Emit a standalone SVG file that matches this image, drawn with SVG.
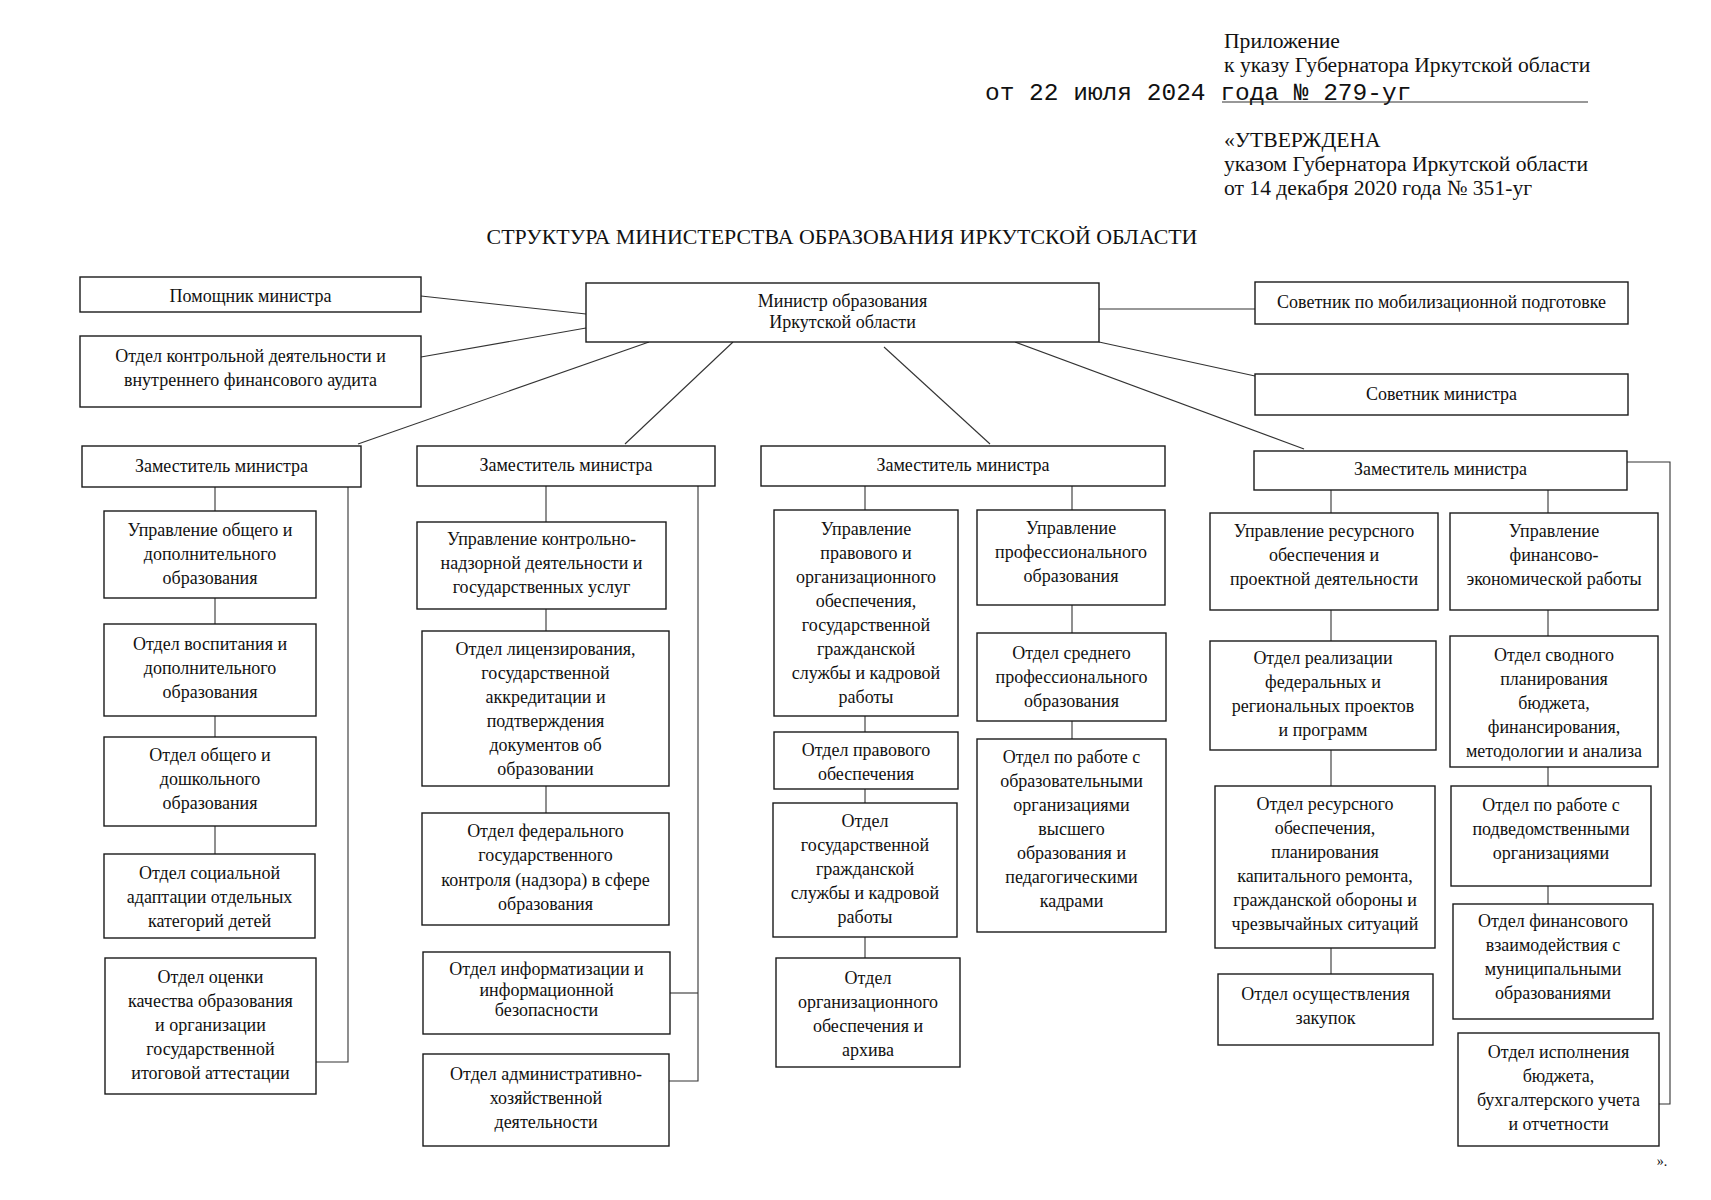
<svg xmlns="http://www.w3.org/2000/svg" width="1711" height="1200" viewBox="0 0 1711 1200">
<style>
.bg{fill:#fff}
.box{fill:#fff;stroke:#1a1a1a;stroke-width:1.4}
.t{font-family:"Liberation Serif","Times New Roman",serif;font-size:18px;text-anchor:middle;fill:#111}
.h{font-family:"Liberation Serif","Times New Roman",serif;font-size:21.6px;fill:#111}
.m{font-family:"Liberation Mono","Courier New",monospace;font-size:24.5px;fill:#111}
.c{stroke:#333;stroke-width:1.1;fill:none}
</style>
<rect class="bg" x="0" y="0" width="1711" height="1200"/>
<g id="header">
<text class="h" x="1224" y="48">Приложение</text>
<text class="h" x="1224" y="72">к указу Губернатора Иркутской области</text>
<text class="m" x="985" y="100">от 22 июля 2024 года № 279-уг</text>
<line x1="1222" y1="102" x2="1588" y2="102" stroke="#333" stroke-width="1.2"/>
<text class="h" x="1224" y="147">«УТВЕРЖДЕНА</text>
<text class="h" x="1224" y="171">указом Губернатора Иркутской области</text>
<text class="h" x="1224" y="195">от 14 декабря 2020 года № 351-уг</text>
<text class="h" x="842" y="244" text-anchor="middle" style="font-size:21.9px">СТРУКТУРА МИНИСТЕРСТВА ОБРАЗОВАНИЯ ИРКУТСКОЙ ОБЛАСТИ</text>
<text class="t" x="1662" y="1166" style="font-size:14px">».</text>
</g>
<g id="connectors">
<line class="c" x1="421" y1="296" x2="586" y2="314"/>
<line class="c" x1="421" y1="357" x2="586" y2="328"/>
<line class="c" x1="1099" y1="309" x2="1255" y2="309"/>
<line class="c" x1="1099" y1="342" x2="1255" y2="376"/>
<line class="c" x1="649" y1="342" x2="358" y2="444"/>
<line class="c" x1="733" y1="342" x2="625" y2="444"/>
<line class="c" x1="884" y1="347" x2="990" y2="444"/>
<line class="c" x1="1015" y1="342" x2="1304" y2="449"/>
<line class="c" x1="215" y1="487" x2="215" y2="511"/>
<line class="c" x1="215" y1="598" x2="215" y2="624"/>
<line class="c" x1="215" y1="716" x2="215" y2="737"/>
<line class="c" x1="215" y1="826" x2="215" y2="854"/>
<polyline class="c" points="348,487 348,1062 316,1062"/>
<line class="c" x1="546" y1="486" x2="546" y2="522"/>
<line class="c" x1="546" y1="609" x2="546" y2="631"/>
<line class="c" x1="546" y1="786" x2="546" y2="813"/>
<polyline class="c" points="698,486 698,1081 669,1081"/>
<line class="c" x1="670" y1="993" x2="698" y2="993"/>
<line class="c" x1="865" y1="486" x2="865" y2="510"/>
<line class="c" x1="865" y1="716" x2="865" y2="732"/>
<line class="c" x1="865" y1="789" x2="865" y2="803"/>
<line class="c" x1="865" y1="937" x2="865" y2="958"/>
<line class="c" x1="1072" y1="486" x2="1072" y2="510"/>
<line class="c" x1="1072" y1="605" x2="1072" y2="633"/>
<line class="c" x1="1072" y1="721" x2="1072" y2="739"/>
<line class="c" x1="1331" y1="490" x2="1331" y2="513"/>
<line class="c" x1="1331" y1="610" x2="1331" y2="641"/>
<line class="c" x1="1331" y1="750" x2="1331" y2="786"/>
<line class="c" x1="1331" y1="948" x2="1331" y2="974"/>
<line class="c" x1="1548" y1="490" x2="1548" y2="513"/>
<line class="c" x1="1548" y1="610" x2="1548" y2="636"/>
<line class="c" x1="1548" y1="767" x2="1548" y2="786"/>
<line class="c" x1="1548" y1="886" x2="1548" y2="904"/>
<polyline class="c" points="1627,462 1670,462 1670,1104 1659,1104"/>
</g>
<g id="assistant"><rect class="box" x="80" y="277" width="341" height="35"/><text class="t"><tspan x="250.5" y="302">Помощник министра</tspan></text></g>
<g id="control"><rect class="box" x="80" y="336" width="341" height="71"/><text class="t"><tspan x="250.5" y="362">Отдел контрольной деятельности и</tspan><tspan x="250.5" y="386">внутреннего финансового аудита</tspan></text></g>
<g id="minister"><rect class="box" x="586" y="283" width="513" height="59"/><text class="t"><tspan x="842.5" y="307">Министр образования</tspan><tspan x="842.5" y="328">Иркутской области</tspan></text></g>
<g id="mob"><rect class="box" x="1255" y="282" width="373" height="42"/><text class="t"><tspan x="1441.5" y="308">Советник по мобилизационной подготовке</tspan></text></g>
<g id="adviser"><rect class="box" x="1255" y="374" width="373" height="41"/><text class="t"><tspan x="1441.5" y="400">Советник министра</tspan></text></g>
<g id="d1"><rect class="box" x="82" y="446" width="279" height="41"/><text class="t"><tspan x="221.5" y="472">Заместитель министра</tspan></text></g>
<g id="d2"><rect class="box" x="417" y="446" width="298" height="40"/><text class="t"><tspan x="566" y="471">Заместитель министра</tspan></text></g>
<g id="d3"><rect class="box" x="761" y="446" width="404" height="40"/><text class="t"><tspan x="963" y="471">Заместитель министра</tspan></text></g>
<g id="d4"><rect class="box" x="1254" y="451" width="373" height="39"/><text class="t"><tspan x="1440.5" y="475">Заместитель министра</tspan></text></g>
<g id="c1a"><rect class="box" x="104" y="511" width="212" height="87"/><text class="t"><tspan x="210" y="536">Управление общего и</tspan><tspan x="210" y="560">дополнительного</tspan><tspan x="210" y="584">образования</tspan></text></g>
<g id="c1b"><rect class="box" x="104" y="624" width="212" height="92"/><text class="t"><tspan x="210" y="650">Отдел воспитания и</tspan><tspan x="210" y="674">дополнительного</tspan><tspan x="210" y="698">образования</tspan></text></g>
<g id="c1c"><rect class="box" x="104" y="737" width="212" height="89"/><text class="t"><tspan x="210" y="761">Отдел общего и</tspan><tspan x="210" y="785">дошкольного</tspan><tspan x="210" y="809">образования</tspan></text></g>
<g id="c1d"><rect class="box" x="104" y="854" width="211" height="84"/><text class="t"><tspan x="209.5" y="879">Отдел социальной</tspan><tspan x="209.5" y="903">адаптации отдельных</tspan><tspan x="209.5" y="927">категорий детей</tspan></text></g>
<g id="c1e"><rect class="box" x="105" y="958" width="211" height="136"/><text class="t"><tspan x="210.5" y="983">Отдел оценки</tspan><tspan x="210.5" y="1007">качества образования</tspan><tspan x="210.5" y="1031">и организации</tspan><tspan x="210.5" y="1055">государственной</tspan><tspan x="210.5" y="1079">итоговой аттестации</tspan></text></g>
<g id="c2a"><rect class="box" x="417" y="522" width="249" height="87"/><text class="t"><tspan x="541.5" y="545">Управление контрольно-</tspan><tspan x="541.5" y="569">надзорной деятельности и</tspan><tspan x="541.5" y="593">государственных услуг</tspan></text></g>
<g id="c2b"><rect class="box" x="422" y="631" width="247" height="155"/><text class="t"><tspan x="545.5" y="655">Отдел лицензирования,</tspan><tspan x="545.5" y="679">государственной</tspan><tspan x="545.5" y="703">аккредитации и</tspan><tspan x="545.5" y="727">подтверждения</tspan><tspan x="545.5" y="751">документов об</tspan><tspan x="545.5" y="775">образовании</tspan></text></g>
<g id="c2c"><rect class="box" x="422" y="813" width="247" height="112"/><text class="t"><tspan x="545.5" y="837">Отдел федерального</tspan><tspan x="545.5" y="861">государственного</tspan><tspan x="545.5" y="886">контроля (надзора) в сфере</tspan><tspan x="545.5" y="910">образования</tspan></text></g>
<g id="c2d"><rect class="box" x="423" y="952" width="247" height="82"/><text class="t"><tspan x="546.5" y="975">Отдел информатизации и</tspan><tspan x="546.5" y="996">информационной</tspan><tspan x="546.5" y="1016">безопасности</tspan></text></g>
<g id="c2e"><rect class="box" x="423" y="1054" width="246" height="92"/><text class="t"><tspan x="546" y="1080">Отдел административно-</tspan><tspan x="546" y="1104">хозяйственной</tspan><tspan x="546" y="1128">деятельности</tspan></text></g>
<g id="c3a"><rect class="box" x="774" y="510" width="184" height="206"/><text class="t"><tspan x="866" y="535">Управление</tspan><tspan x="866" y="559">правового и</tspan><tspan x="866" y="583">организационного</tspan><tspan x="866" y="607">обеспечения,</tspan><tspan x="866" y="631">государственной</tspan><tspan x="866" y="655">гражданской</tspan><tspan x="866" y="679">службы и кадровой</tspan><tspan x="866" y="703">работы</tspan></text></g>
<g id="c3b"><rect class="box" x="774" y="732" width="184" height="57"/><text class="t"><tspan x="866" y="756">Отдел правового</tspan><tspan x="866" y="780">обеспечения</tspan></text></g>
<g id="c3c"><rect class="box" x="773" y="803" width="184" height="134"/><text class="t"><tspan x="865" y="827">Отдел</tspan><tspan x="865" y="851">государственной</tspan><tspan x="865" y="875">гражданской</tspan><tspan x="865" y="899">службы и кадровой</tspan><tspan x="865" y="923">работы</tspan></text></g>
<g id="c3d"><rect class="box" x="776" y="958" width="184" height="109"/><text class="t"><tspan x="868" y="984">Отдел</tspan><tspan x="868" y="1008">организационного</tspan><tspan x="868" y="1032">обеспечения и</tspan><tspan x="868" y="1056">архива</tspan></text></g>
<g id="c3e"><rect class="box" x="977" y="510" width="188" height="95"/><text class="t"><tspan x="1071" y="534">Управление</tspan><tspan x="1071" y="558">профессионального</tspan><tspan x="1071" y="582">образования</tspan></text></g>
<g id="c3f"><rect class="box" x="977" y="633" width="189" height="88"/><text class="t"><tspan x="1071.5" y="659">Отдел среднего</tspan><tspan x="1071.5" y="683">профессионального</tspan><tspan x="1071.5" y="707">образования</tspan></text></g>
<g id="c3g"><rect class="box" x="977" y="739" width="189" height="193"/><text class="t"><tspan x="1071.5" y="763">Отдел по работе с</tspan><tspan x="1071.5" y="787">образовательными</tspan><tspan x="1071.5" y="811">организациями</tspan><tspan x="1071.5" y="835">высшего</tspan><tspan x="1071.5" y="859">образования и</tspan><tspan x="1071.5" y="883">педагогическими</tspan><tspan x="1071.5" y="907">кадрами</tspan></text></g>
<g id="c4a"><rect class="box" x="1210" y="513" width="228" height="97"/><text class="t"><tspan x="1324" y="537">Управление ресурсного</tspan><tspan x="1324" y="561">обеспечения и</tspan><tspan x="1324" y="585">проектной деятельности</tspan></text></g>
<g id="c4b"><rect class="box" x="1210" y="641" width="226" height="109"/><text class="t"><tspan x="1323" y="664">Отдел реализации</tspan><tspan x="1323" y="688">федеральных и</tspan><tspan x="1323" y="712">региональных проектов</tspan><tspan x="1323" y="736">и программ</tspan></text></g>
<g id="c4c"><rect class="box" x="1215" y="786" width="220" height="162"/><text class="t"><tspan x="1325" y="810">Отдел ресурсного</tspan><tspan x="1325" y="834">обеспечения,</tspan><tspan x="1325" y="858">планирования</tspan><tspan x="1325" y="882">капитального ремонта,</tspan><tspan x="1325" y="906">гражданской обороны и</tspan><tspan x="1325" y="930">чрезвычайных ситуаций</tspan></text></g>
<g id="c4d"><rect class="box" x="1218" y="974" width="215" height="71"/><text class="t"><tspan x="1325.5" y="1000">Отдел осуществления</tspan><tspan x="1325.5" y="1024">закупок</tspan></text></g>
<g id="c4e"><rect class="box" x="1450" y="513" width="208" height="97"/><text class="t"><tspan x="1554" y="537">Управление</tspan><tspan x="1554" y="561">финансово-</tspan><tspan x="1554" y="585">экономической работы</tspan></text></g>
<g id="c4f"><rect class="box" x="1450" y="636" width="208" height="131"/><text class="t"><tspan x="1554" y="661">Отдел сводного</tspan><tspan x="1554" y="685">планирования</tspan><tspan x="1554" y="709">бюджета,</tspan><tspan x="1554" y="733">финансирования,</tspan><tspan x="1554" y="757">методологии и анализа</tspan></text></g>
<g id="c4g"><rect class="box" x="1451" y="786" width="200" height="100"/><text class="t"><tspan x="1551" y="811">Отдел по работе с</tspan><tspan x="1551" y="835">подведомственными</tspan><tspan x="1551" y="859">организациями</tspan></text></g>
<g id="c4h"><rect class="box" x="1453" y="904" width="200" height="115"/><text class="t"><tspan x="1553" y="927">Отдел финансового</tspan><tspan x="1553" y="951">взаимодействия с</tspan><tspan x="1553" y="975">муниципальными</tspan><tspan x="1553" y="999">образованиями</tspan></text></g>
<g id="c4i"><rect class="box" x="1458" y="1033" width="201" height="113"/><text class="t"><tspan x="1558.5" y="1058">Отдел исполнения</tspan><tspan x="1558.5" y="1082">бюджета,</tspan><tspan x="1558.5" y="1106">бухгалтерского учета</tspan><tspan x="1558.5" y="1130">и отчетности</tspan></text></g>
</svg>
